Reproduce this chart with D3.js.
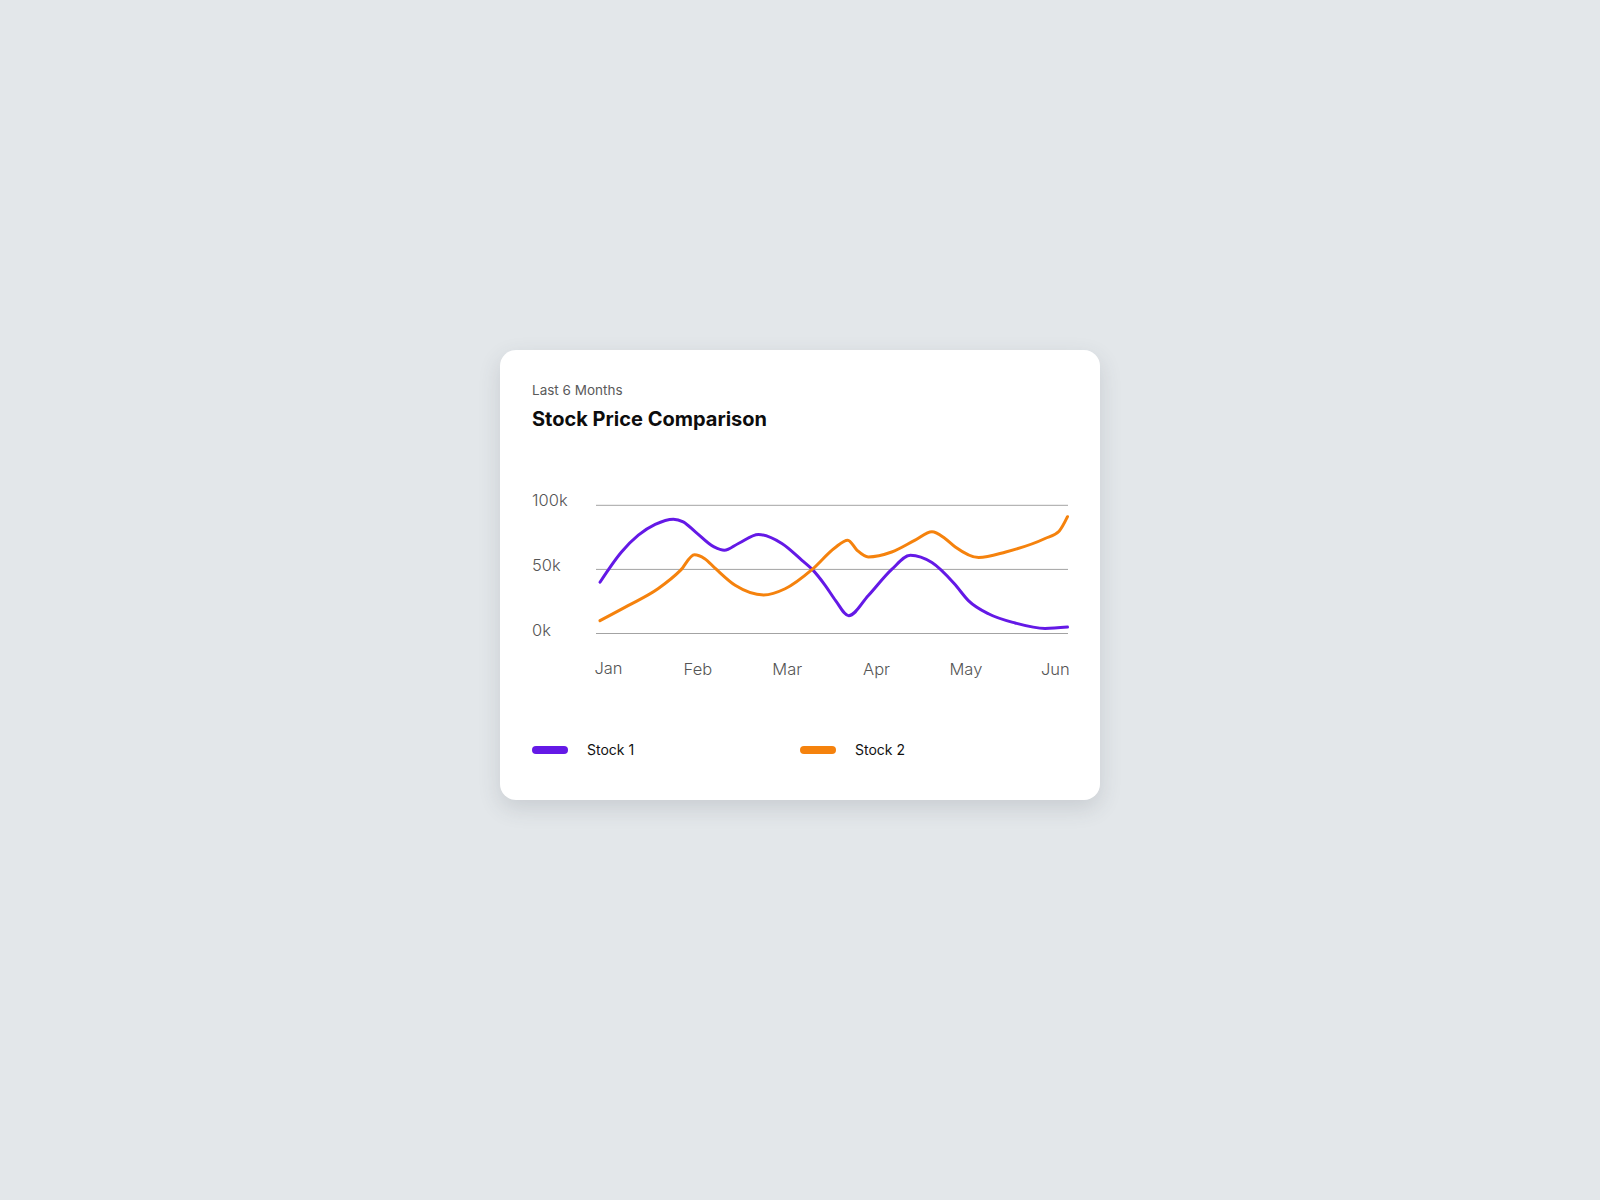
<!DOCTYPE html>
<html>
<head>
<meta charset="utf-8">
<script src="https://cdn.jsdelivr.net/npm/d3@7"></script>
<style>
  html, body { margin: 0; padding: 0; }
  body { width: 1600px; height: 1200px; background: #e3e7ea; position: relative; font-family: Inter, "Noto Sans", sans-serif; }
  #card { position: absolute; left: 500px; top: 350px; width: 600px; height: 450px; background: #fff; border-radius: 16px;
          box-shadow: 0 8px 22px rgba(60, 70, 80, 0.16); }
  svg { display: block; }
</style>
</head>
<body>
<div id="card"></div>
<script>
// ---- data ----
const subtitle = "Last 6 Months";
const title = "Stock Price Comparison";
const months = ["Jan", "Feb", "Mar", "Apr", "May", "Jun"];
const yTicks = [0, 50, 100];
const seriesNames = ["Stock 1", "Stock 2"];
// [position in months from Jan (0..5), value in k]
const stock1 = [
  [0.00, 40.0], [0.23, 63.6], [0.41, 76.7], [0.59, 85.1], [0.785, 89.2], [0.89, 87.1],
  [1.02, 79.3], [1.22, 67.5], [1.33, 64.9], [1.48, 70.2], [1.695, 77.2], [1.945, 70.2],
  [2.16, 57.1], [2.27, 50.0], [2.41, 37.4], [2.52, 25.7], [2.66, 13.9], [2.87, 29.6],
  [3.12, 50.0], [3.32, 61.0], [3.55, 55.3], [3.79, 38.8], [3.94, 25.7], [4.16, 15.2],
  [4.44, 8.2], [4.76, 3.9], [5.00, 5.0]
];
const stock2 = [
  [0.00, 10.0], [0.30, 21.7], [0.62, 34.9], [0.86, 49.2], [1.01, 61.5], [1.12, 58.4],
  [1.23, 51.0], [1.45, 37.4], [1.75, 30.1], [1.98, 34.9], [2.27, 50.0], [2.51, 66.7],
  [2.65, 72.8], [2.75, 64.9], [2.87, 59.7], [3.12, 63.6], [3.37, 72.8], [3.55, 79.3],
  [3.69, 74.1], [3.80, 67.5], [4.05, 59.2], [4.34, 63.6], [4.76, 74.1], [4.91, 79.8],
  [5.00, 91.1]
];
const colors = ["#6419e6", "#f5820d"];

// ---- drawing ----
const W = 600, H = 450;
const svg = d3.select("#card").append("svg").attr("width", W).attr("height", H);

svg.append("text").attr("x", 32).attr("y", 45)
  .attr("font-size", 13.5).attr("fill", "#5a5a5a").text(subtitle);
svg.append("text").attr("x", 32).attr("y", 76)
  .attr("font-size", 20).attr("font-weight", 700).attr("fill", "#0d0d0d").text(title);

const y = d3.scaleLinear().domain([0, 100]).range([283.5, 155.3]);
const x = d3.scaleLinear().domain([0, 5]).range([100, 567.5]);
const xl = d3.scalePoint().domain(months).range([108.5, 555.3]);

// gridlines + y labels
const g = svg.append("g");
g.selectAll("line.grid").data(yTicks).join("line")
  .attr("class", "grid")
  .attr("x1", 96).attr("x2", 568)
  .attr("y1", d => y(d)).attr("y2", d => y(d))
  .attr("stroke", "#a3a3a3").attr("stroke-width", 1);
g.selectAll("text.yl").data(yTicks).join("text")
  .attr("class", "yl")
  .attr("x", 32).attr("y", d => y(d) + (d === 100 ? 1 : 2))
  .attr("font-size", 16.5).attr("font-weight", 300).attr("fill", "#555")
  .text(d => d + "k");

// x labels
svg.append("g").selectAll("text").data(months).join("text")
  .attr("x", d => xl(d)).attr("y", (d, i) => i === 0 ? 323.5 : 324.8)
  .attr("text-anchor", "middle")
  .attr("font-size", 16.5).attr("font-weight", 300).attr("fill", "#555")
  .text(d => d);

// lines
const line = d3.line().x(d => x(d[0])).y(d => y(d[1])).curve(d3.curveMonotoneX);
[stock1, stock2].forEach((s, i) => {
  svg.append("path").datum(s)
    .attr("d", line)
    .attr("fill", "none")
    .attr("stroke", colors[i])
    .attr("stroke-width", 3)
    .attr("stroke-linecap", "round")
    .attr("stroke-linejoin", "round");
});

// legend
const legendX = d3.scalePoint().domain(seriesNames).range([32, 300]);
const lg = svg.append("g").selectAll("g").data(seriesNames).join("g")
  .attr("transform", d => `translate(${legendX(d)},400)`);
lg.append("rect").attr("x", 0).attr("y", -4).attr("width", 36).attr("height", 8).attr("rx", 4)
  .attr("fill", (d, i) => colors[i]);
lg.append("text").attr("x", 55).attr("y", 5)
  .attr("font-size", 14).attr("fill", "#111").text(d => d);
</script>
</body>
</html>
